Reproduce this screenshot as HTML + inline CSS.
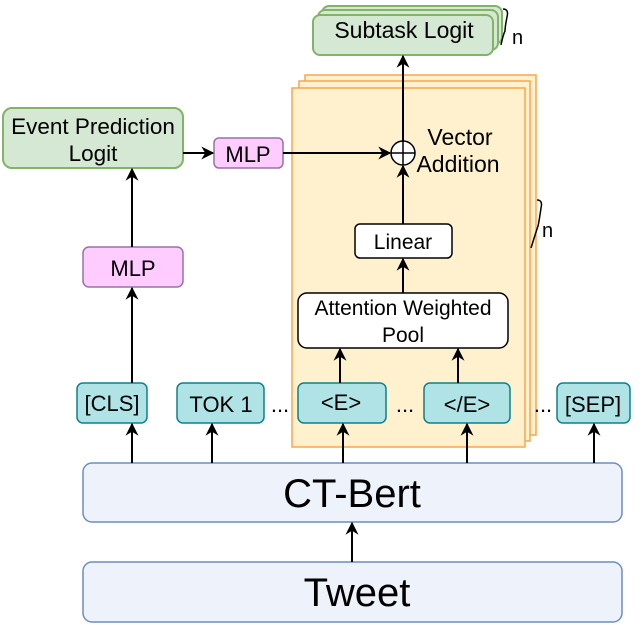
<!DOCTYPE html>
<html><head><meta charset="utf-8"><style>html,body{margin:0;padding:0;background:#fff}svg{display:block}text{font-family:"Liberation Sans",Arial,sans-serif;fill:#000}</style></head><body>
<svg width="642" height="625" viewBox="0 0 642 625" xmlns="http://www.w3.org/2000/svg">
<defs><marker id="a" viewBox="0 0 10 10" refX="9" refY="5" markerWidth="15" markerHeight="13" markerUnits="userSpaceOnUse" orient="auto"><path d="M0,0 L10,5 L0,10 L3,5 z" fill="#000"/></marker></defs>
<g stroke="#f9a54c" stroke-width="1.5" fill="#fff1cd">
<rect x="305" y="75" width="231" height="360"/>
<rect x="299" y="81" width="231" height="360"/>
<rect x="292" y="88" width="233" height="359"/>
</g>
<g stroke="#82b366" stroke-width="2" fill="#d5e8d4">
<rect x="322" y="6" width="180" height="38" rx="7"/>
<rect x="318" y="10" width="180" height="40" rx="7"/>
<rect x="313" y="15" width="180" height="40" rx="7"/>
<rect x="3" y="108" width="180" height="60" rx="9"/>
</g>
<text x="404" y="38" font-size="23" text-anchor="middle">Subtask Logit</text>
<text x="93" y="134" font-size="22.5" text-anchor="middle">Event Prediction</text>
<text x="93" y="161" font-size="22.5" text-anchor="middle">Logit</text>
<path d="M503,9 q6,0 4,8 q-2,10 -2,14 q-2,4 -4,14" fill="none" stroke="#000" stroke-width="1.5"/>
<text x="512" y="44" font-size="20">n</text>
<path d="M537,200 q6,0 4,8 q-2,14 -3,18 q-2,6 -7,22" fill="none" stroke="#000" stroke-width="1.5"/>
<text x="542" y="237" font-size="20">n</text>
<g stroke="#9673a6" stroke-width="1.5" fill="#ffccff">
<rect x="214" y="138" width="69" height="30" rx="5"/>
<rect x="83" y="247" width="100" height="40" rx="6"/>
</g>
<text x="248" y="162" font-size="22" text-anchor="middle">MLP</text>
<text x="133" y="276" font-size="22" text-anchor="middle">MLP</text>
<g stroke="#000" stroke-width="1.5" fill="#fff">
<rect x="355" y="224" width="97" height="34" rx="5"/>
<rect x="298" y="293" width="210" height="55" rx="9"/>
</g>
<text x="403" y="249" font-size="21" text-anchor="middle">Linear</text>
<text x="403" y="315" font-size="21" text-anchor="middle">Attention Weighted</text>
<text x="403" y="342" font-size="21" text-anchor="middle">Pool</text>
<circle cx="403" cy="153" r="12" fill="#fff" stroke="#000" stroke-width="1.5"/>
<path d="M391,153 H415 M403,141 V165" stroke="#000" stroke-width="1.5"/>
<text x="460" y="145" font-size="23" text-anchor="middle">Vector</text>
<text x="458" y="172" font-size="23" text-anchor="middle">Addition</text>
<g stroke="#0e8088" stroke-width="1.5" fill="#b0e3e6">
<rect x="77" y="383" width="70" height="40" rx="6"/>
<rect x="177" y="383" width="87" height="40" rx="6"/>
<rect x="298" y="383" width="88" height="40" rx="6"/>
<rect x="424" y="383" width="86" height="40" rx="6"/>
<rect x="557" y="383" width="73" height="40" rx="6"/>
</g>
<g font-size="22" text-anchor="middle">
<text x="112" y="411">[CLS]</text><text x="221" y="412">TOK 1</text><text x="341" y="410">&lt;E&gt;</text><text x="467" y="412">&lt;/E&gt;</text><text x="593" y="412">[SEP]</text>
<text x="280" y="412">...</text><text x="405" y="412">...</text><text x="543" y="412">...</text>
</g>
<g stroke="#6c8ebf" stroke-width="1.5" fill="#eef2fb">
<rect x="83" y="463" width="539" height="59" rx="9"/>
<rect x="83" y="562" width="539" height="60" rx="9"/>
</g>
<text x="352" y="507" font-size="40" text-anchor="middle">CT-Bert</text>
<text x="357" y="606" font-size="40" text-anchor="middle">Tweet</text>
<g stroke="#000" stroke-width="2" marker-end="url(#a)">
<path d="M132,463 V424"/><path d="M212,463 V424"/><path d="M343,463 V424"/><path d="M467,463 V424"/><path d="M594,463 V424"/>
<path d="M352,562 V523"/>
<path d="M132,383 V288"/><path d="M132,247 V169"/>
<path d="M183,153 H213"/><path d="M283,153 H390"/>
<path d="M403,224 V166"/><path d="M403,141 V56"/><path d="M403,293 V259"/>
<path d="M340,383 V349"/><path d="M458,383 V349"/>
</g>
</svg>
</body></html>
